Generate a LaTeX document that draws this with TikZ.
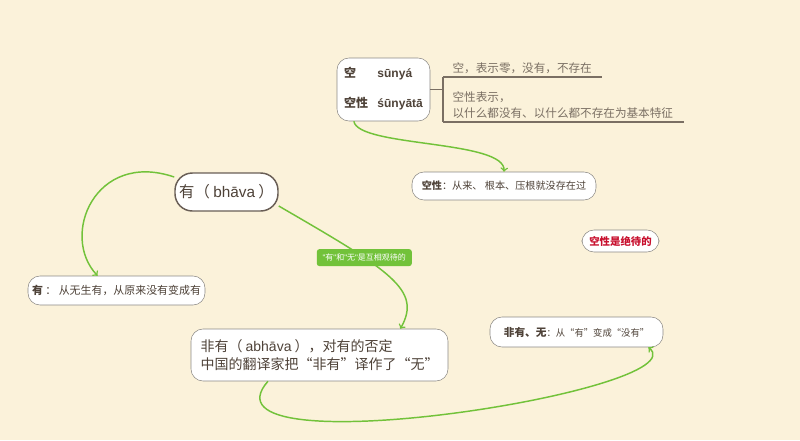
\documentclass[tikz,border=0pt]{standalone}
\usepackage{fontspec}
\setmainfont{Noto Sans CJK SC}
\newfontfamily\latinfont{Liberation Sans}
\usetikzlibrary{positioning, shapes, arrows, calc}
\definecolor{paper}{HTML}{FBF2DA}
\definecolor{leaf}{HTML}{72C23A}
\definecolor{ink}{HTML}{4E4238}
\definecolor{frame}{HTML}{8C8A86}
\definecolor{stem}{HTML}{7A6F63}
\definecolor{crimson}{HTML}{C8102E}

\begin{document}
\begin{tikzpicture}[
      x=0.75pt, y=-0.75pt,
      topic/.style={
        draw=frame,
        fill=white,
        rounded corners=9pt,
        text=ink,
        inner sep=0pt,
        align=center,
        font=\fontsize{8.2}{10}\selectfont,
      },
      note/.style={
        anchor=south west,
        inner xsep=7pt,
        inner ysep=2.5pt,
        align=left,
        text=stem,
        font=\fontsize{8.7}{12}\selectfont,
      },
      relation/.style={
        fill=leaf,
        rounded corners=2pt,
        text=white,
        inner sep=0pt,
        minimum width=71.25pt,
        minimum height=12.75pt,
        font=\fontsize{6}{7}\selectfont,
      },
      link/.style={draw=leaf, line width=1.1pt, ->},
      bracket/.style={draw=stem, line width=0.9pt},
      ]
      \useasboundingbox (0,0) rectangle (800,440);
      \fill[paper] (0,0) rectangle (800,440);
      \node[topic, minimum width=69.75pt, minimum height=47.25pt, font=\fontsize{9}{11}\selectfont\bfseries] (kong) at (383.5,89.5)
        {\begin{tabular}{@{}l@{\hspace{7pt}}l@{}}空 & {\latinfont\bfseries sūnyá}\\[12pt] 空性 & {\latinfont\bfseries śūnyātā}\end{tabular}};
      \node[note, text width=105pt] (def1) at (443,77) {空，表示零，没有，不存在};
      \node[note, text width=166pt] (def2) at (443,122) {空性表示，\\以什么都没有、以什么都不存在为基本特征};
      \node[topic, minimum width=138pt, minimum height=21pt, font=\fontsize{7.6}{9}\selectfont] (kongxing) at (504,186)
        {\textbf{空性}：从来、 根本、压根就没存在过};
      \node[topic, minimum width=77.25pt, minimum height=28.5pt, rounded corners=13pt, draw=ink!85, line width=1.1pt, font=\fontsize{11.5}{13}\selectfont] (you) at (226.5,192)
        {有（ {\latinfont bhāva} ）};
      \node[topic, minimum width=132.75pt, minimum height=21.75pt] (youdef) at (116.5,290.5)
        {\textbf{有} ： 从无生有，从原来没有变成有};
      \node[topic, minimum width=192.75pt, minimum height=39pt, align=left, font=\fontsize{10.5}{13.5}\selectfont] (feiyou) at (319.5,355)
        {非有（ {\latinfont abhāva} ），对有的否定\\中国的翻译家把“非有”译作了“无”};
      \node[topic, minimum width=129.75pt, minimum height=22.5pt, font=\fontsize{7}{9}\selectfont] (feiyouwu) at (576.5,332)
        {{\fontsize{8}{9}\selectfont\bfseries 非有、无}：从“有”变成“没有”};
      \node[topic, minimum width=57.75pt, minimum height=16.5pt, text=crimson, font=\fontsize{7.8}{9}\selectfont\bfseries] (juedai) at (620.5,241)
        {空性是绝待的};
      % bracket to the notes
      \draw[bracket] (kong.east) -- (kong.east -| def1.south west);
      \draw[bracket] (def1.south west) -- (def2.south west);
      \draw[bracket] (def1.south west) -- (def1.south east);
      \draw[bracket] (def2.south west) -- (def2.south east);
      % connectors
      \draw[link] (kong.227) .. controls +(4,26) and +(2,-32) .. (kongxing.north);
      \draw[link] (you.164) .. controls +(-79,-27) and +(-38,-40) .. (youdef.142);
      \draw[link] (you.-15) .. controls +(112,65) and +(22,-39) .. (feiyou.18)
        node[relation, pos=0.33] (rel) {{\latinfont "}有{\latinfont "}和{\latinfont "}无{\latinfont "}是互相观待的};
      \draw[link] (feiyou.207) .. controls +(-78,89) and +(53,43) .. (feiyouwu.-12);
    \end{tikzpicture}
\end{document}
